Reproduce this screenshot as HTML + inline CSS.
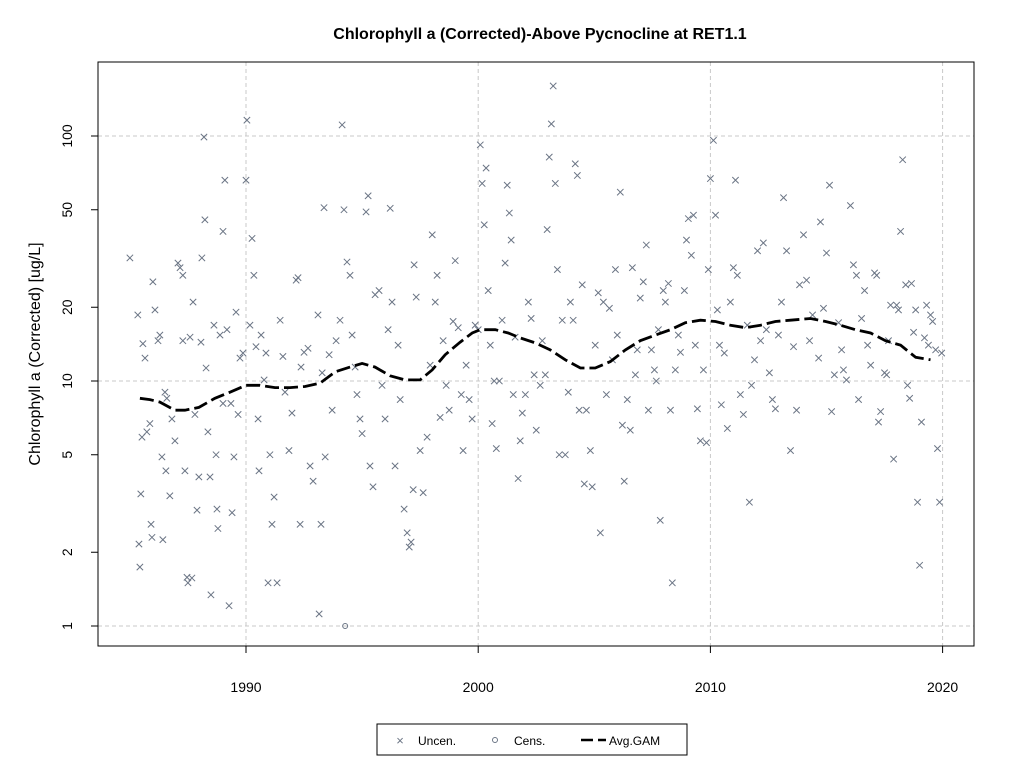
<!DOCTYPE html>
<html><head><meta charset="utf-8"><style>
body{margin:0;background:#fff;font-family:"Liberation Sans",Arial,sans-serif}
svg{display:block}
</style></head><body>
<svg id="chart" width="1024" height="768" xmlns="http://www.w3.org/2000/svg">
<rect width="1024" height="768" fill="#fff"/>
<text x="540" y="39" text-anchor="middle" font-size="16" font-weight="bold">Chlorophyll a (Corrected)-Above Pycnocline at RET1.1</text>
<g id="grid"></g>
<g id="marks"></g>
<rect x="98" y="62" width="876" height="584" fill="none" stroke="#000" stroke-width="1"/>
<g id="axes"></g>
<text transform="translate(40,354) rotate(-90)" text-anchor="middle" font-size="16">Chlorophyll a (Corrected) [ug/L]</text>
<g>
<rect x="377" y="724" width="310" height="31" fill="#fff" stroke="#000"/>
<text x="400" y="745" text-anchor="middle" font-size="13" fill="#6b7585">×</text>
<text x="418" y="745" font-size="12">Uncen.</text>
<circle cx="495" cy="740" r="2.5" fill="none" stroke="#6b7585"/>
<text x="514" y="745" font-size="12">Cens.</text>
<line x1="581" y1="740" x2="606" y2="740" stroke="#000" stroke-width="2.5" stroke-dasharray="12,5"/>
<text x="609" y="745" font-size="12">Avg.GAM</text>
</g>
</svg>
<script>
const xTicks=[1990,2000,2010,2020];
const yTicks=[1,2,5,10,20,50,100];
const yGrid=[1,10,100];
const uncYears=[1985.0,1985.34,1985.47,1985.39,1985.43,1985.56,1985.65,1985.73,1985.52,1985.86,1985.95,1985.91,1985.99,1986.08,1986.29,1986.21,1986.38,1986.51,1986.59,1986.55,1986.42,1986.72,1986.81,1986.94,1987.07,1987.16,1987.28,1987.37,1987.28,1987.46,1987.5,1987.67,1987.59,1987.72,1987.8,1987.89,1987.97,1988.06,1988.1,1988.19,1988.23,1988.28,1988.36,1988.45,1988.49,1988.62,1988.71,1988.75,1988.79,1988.88,1989.01,1989.01,1989.09,1989.18,1989.27,1989.35,1989.4,1989.48,1989.57,1989.66,1989.74,1989.87,1990,1990.04,1990.17,1990.26,1990.34,1990.43,1990.52,1990.56,1990.65,1990.78,1990.86,1991.03,1990.95,1991.12,1991.21,1991.34,1991.47,1991.59,1991.68,1991.85,1991.98,1992.16,1992.24,1992.33,1992.37,1992.5,1992.67,1992.76,1992.89,1993.1,1993.15,1993.23,1993.28,1993.36,1993.41,1993.58,1993.71,1993.88,1994.05,1994.14,1994.22,1994.35,1994.48,1994.57,1994.7,1994.78,1994.91,1995,1995.17,1995.26,1995.34,1995.47,1995.56,1995.73,1995.86,1995.99,1996.12,1996.21,1996.29,1996.42,1996.55,1996.64,1996.81,1996.94,1997.03,1997.11,1997.2,1997.24,1997.33,1997.5,1997.63,1997.8,1997.93,1998.02,1998.15,1998.23,1998.36,1998.49,1998.62,1998.75,1998.92,1999.01,1999.14,1999.27,1999.35,1999.48,1999.61,1999.74,1999.87,2000,2000.09,2000.17,2000.26,2000.34,2000.43,2000.52,2000.6,2000.69,2000.78,2000.91,2001.03,2001.16,2001.25,2001.34,2001.42,2001.51,2001.59,2001.72,2001.81,2001.9,2002.03,2002.16,2002.28,2002.41,2002.5,2002.67,2002.76,2002.89,2002.97,2003.06,2003.15,2003.23,2003.32,2003.41,2003.49,2003.62,2003.75,2003.88,2003.97,2004.09,2004.18,2004.27,2004.35,2004.48,2004.57,2004.66,2004.83,2004.91,2005.04,2005.17,2005.26,2005.39,2005.52,2005.65,2005.78,2005.91,2005.99,2006.12,2006.21,2006.29,2006.42,2006.55,2006.64,2006.77,2006.85,2006.98,2007.11,2007.24,2007.33,2007.46,2007.59,2007.67,2007.76,2007.84,2007.97,2008.06,2008.19,2008.28,2008.36,2008.49,2008.62,2008.71,2008.88,2008.97,2009.05,2009.18,2009.27,2009.35,2009.44,2009.57,2009.7,2009.83,2009.91,2010,2010.13,2010.22,2010.3,2010.39,2010.47,2010.6,2010.73,2010.86,2010.99,2011.08,2011.16,2011.29,2011.42,2011.59,2011.68,2011.77,2011.9,2012.03,2012.16,2012.28,2012.41,2012.54,2012.67,2012.8,2012.93,2013.06,2013.15,2013.28,2013.45,2013.58,2013.71,2013.84,2014.01,2014.14,2014.27,2014.4,2014.66,2014.74,2014.87,2015,2015.13,2015.22,2015.34,2015.52,2015.65,2015.73,2015.86,2016.03,2016.16,2016.29,2016.38,2016.51,2016.64,2016.77,2016.9,2017.07,2017.16,2017.24,2017.33,2017.5,2017.59,2017.67,2017.76,2017.89,2018.02,2018.1,2018.19,2018.28,2018.41,2018.49,2018.58,2018.66,2018.75,2018.84,2018.92,2019.01,2019.09,2019.22,2019.31,2019.39,2019.48,2019.57,2019.7,2019.78,2019.87,2019.96];
const uncVals=[31.8,18.6,3.46,2.16,1.74,14.2,12.4,6.2,5.9,6.7,2.3,2.6,25.4,19.5,15.4,14.6,4.9,9,8.5,4.3,2.25,3.4,7.0,5.7,30.3,29,14.6,4.3,27,1.58,1.5,1.57,15.1,21,7.3,2.97,4.06,14.4,31.8,99,45.5,11.3,6.2,4.06,1.34,16.9,5,3,2.5,15.4,8.1,40.8,66,16.2,1.21,8.1,2.9,4.9,19.1,7.3,12.4,13,66,116,16.9,38.2,27,13.8,7,4.3,15.4,10.1,13,5,1.5,2.6,3.36,1.5,17.7,12.6,9,5.2,7.4,25.8,26.4,2.6,11.4,13.1,13.6,4.5,3.9,18.6,1.12,2.6,10.8,51,4.9,12.8,7.6,14.6,17.7,111,50,30.6,27,15.4,11.4,8.8,7,6.1,49,57,4.5,3.7,22.5,23.4,9.6,7,16.2,50.7,21,4.5,14,8.4,3,2.4,2.1,2.2,3.6,29.8,22,5.2,3.5,5.9,11.6,39.5,21,27,7.1,14.6,9.6,7.6,17.5,31,16.5,8.8,5.2,11.6,8.4,7,16.9,16.2,92,64,43.4,74,23.4,14,6.7,10,5.3,10,17.7,30.3,63,48.5,37.6,8.8,15.1,4,5.7,7.4,8.8,21,18,10.6,6.3,9.6,14.6,10.6,41.5,82,112,160,64,28.5,5,17.7,5,9,21,17.7,77,69,7.6,24.7,3.8,7.6,5.2,3.7,14,22.9,2.4,21,8.8,19.8,12.2,28.5,15.4,59,6.6,3.9,8.4,6.3,29,10.6,13.4,21.8,25.4,35.9,7.6,13.4,11.1,10,16.2,2.7,23.4,21,25,7.6,1.5,11.1,15.4,13.1,23.4,37.6,46,32.6,47.5,14,7.7,5.7,11.1,5.6,28.5,67,96,47.5,19.5,14,8,13,6.4,21,29,66,27,8.8,7.3,16.9,3.2,9.6,12.2,34,14.6,36.6,16.2,10.8,8.4,7.7,15.4,21,56,34,5.2,13.8,7.6,24.7,39.5,25.8,14.6,18.6,12.4,44.6,19.8,33.3,63,7.5,10.6,17.3,13.4,11.1,10.1,52,29.8,27,8.4,18,23.4,14,11.6,27.6,27,6.8,7.5,10.8,10.6,14.6,20.4,4.8,20.4,19.5,40.8,80,24.7,9.6,8.5,25,15.8,19.5,3.2,1.77,6.8,15,20.4,14,18.6,17.5,13.4,5.3,3.2,13];
const censYears=[1994.27];
const censVals=[1];
const gamYears=[1985.43,1985.86,1986.29,1986.94,1987.37,1987.97,1988.66,1989.31,1990,1990.6,1991.25,1991.9,1992.54,1993.19,1993.84,1994.48,1995.0,1995.56,1996.21,1996.85,1997.5,1998.02,1998.58,1999.22,1999.74,2000.09,2000.73,2001.29,2001.81,2002.46,2003.1,2003.75,2004.4,2005.04,2005.69,2006.34,2006.98,2007.63,2008.28,2008.92,2009.57,2010.22,2010.86,2011.51,2012.16,2012.8,2013.45,2014.31,2014.96,2015.6,2016.25,2016.9,2017.54,2018.19,2018.84,2019.48];
const gamVals=[8.5,8.4,8.2,7.6,7.6,7.8,8.5,9,9.6,9.6,9.4,9.4,9.5,9.8,10.9,11.4,11.8,11.4,10.5,10.1,10.1,11.1,12.8,14.4,15.7,16.2,16.2,15.7,15.0,14.3,13.4,12.2,11.3,11.3,12,13.4,14.6,15.4,16.2,17.3,17.7,17.5,16.9,16.5,16.9,17.5,17.7,18,17.5,16.9,16.2,15.7,14.6,14,12.5,12.2];

const NS='http://www.w3.org/2000/svg';
const xs=y=>246+(y-1990)*23.22;
const ys=v=>626-245*Math.log10(v);
function mk(tag,attrs,parent){const e=document.createElementNS(NS,tag);for(const k in attrs)e.setAttribute(k,attrs[k]);parent.appendChild(e);return e;}
const grid=document.getElementById('grid'),marks=document.getElementById('marks'),axes=document.getElementById('axes');
xTicks.forEach(t=>{
  const l=mk('line',{x1:xs(t),x2:xs(t),y1:62,y2:646,stroke:'#c8c8c8','stroke-dasharray':'4,3'},grid);
  
  
  const tk=mk('line',{x1:xs(t),x2:xs(t),y1:646,y2:653,stroke:'#000'},axes);
  
  
  const tx=mk('text',{x:xs(t),y:692,'text-anchor':'middle','font-size':'14'},axes);
  tx.textContent=t;
  
  
});
yGrid.forEach(t=>{
  const l=mk('line',{x1:98,x2:974,y1:ys(t),y2:ys(t),stroke:'#c8c8c8','stroke-dasharray':'4,3'},grid);
  
  
});
yTicks.forEach(t=>{
  const tk=mk('line',{x1:91,x2:98,y1:ys(t),y2:ys(t),stroke:'#000'},axes);
  
  
  const tx=mk('text',{transform:`translate(72,${ys(t)}) rotate(-90)`,'text-anchor':'middle','font-size':'14'},axes);
  tx.textContent=t;
  
  
});
uncYears.forEach((yr,i)=>{
  const x=xs(yr),y=ys(uncVals[i]),d=3.2;
  const p=mk('path',{d:`M${x-d},${y-d}L${x+d},${y+d}M${x-d},${y+d}L${x+d},${y-d}`,stroke:'#6b7585','stroke-width':'1'},marks);
  
  
});
censYears.forEach((yr,i)=>{
  const c=mk('circle',{cx:xs(yr),cy:ys(censVals[i]),r:2.5,fill:'none',stroke:'#6b7585'},marks);
  
  
});
const pts=gamYears.map((yr,i)=>xs(yr).toFixed(1)+','+ys(gamVals[i]).toFixed(1)).join(' ');
const g=mk('polyline',{points:pts,fill:'none',stroke:'#000','stroke-width':'2.8','stroke-dasharray':'14,5'},marks);


</script>
</body></html>
